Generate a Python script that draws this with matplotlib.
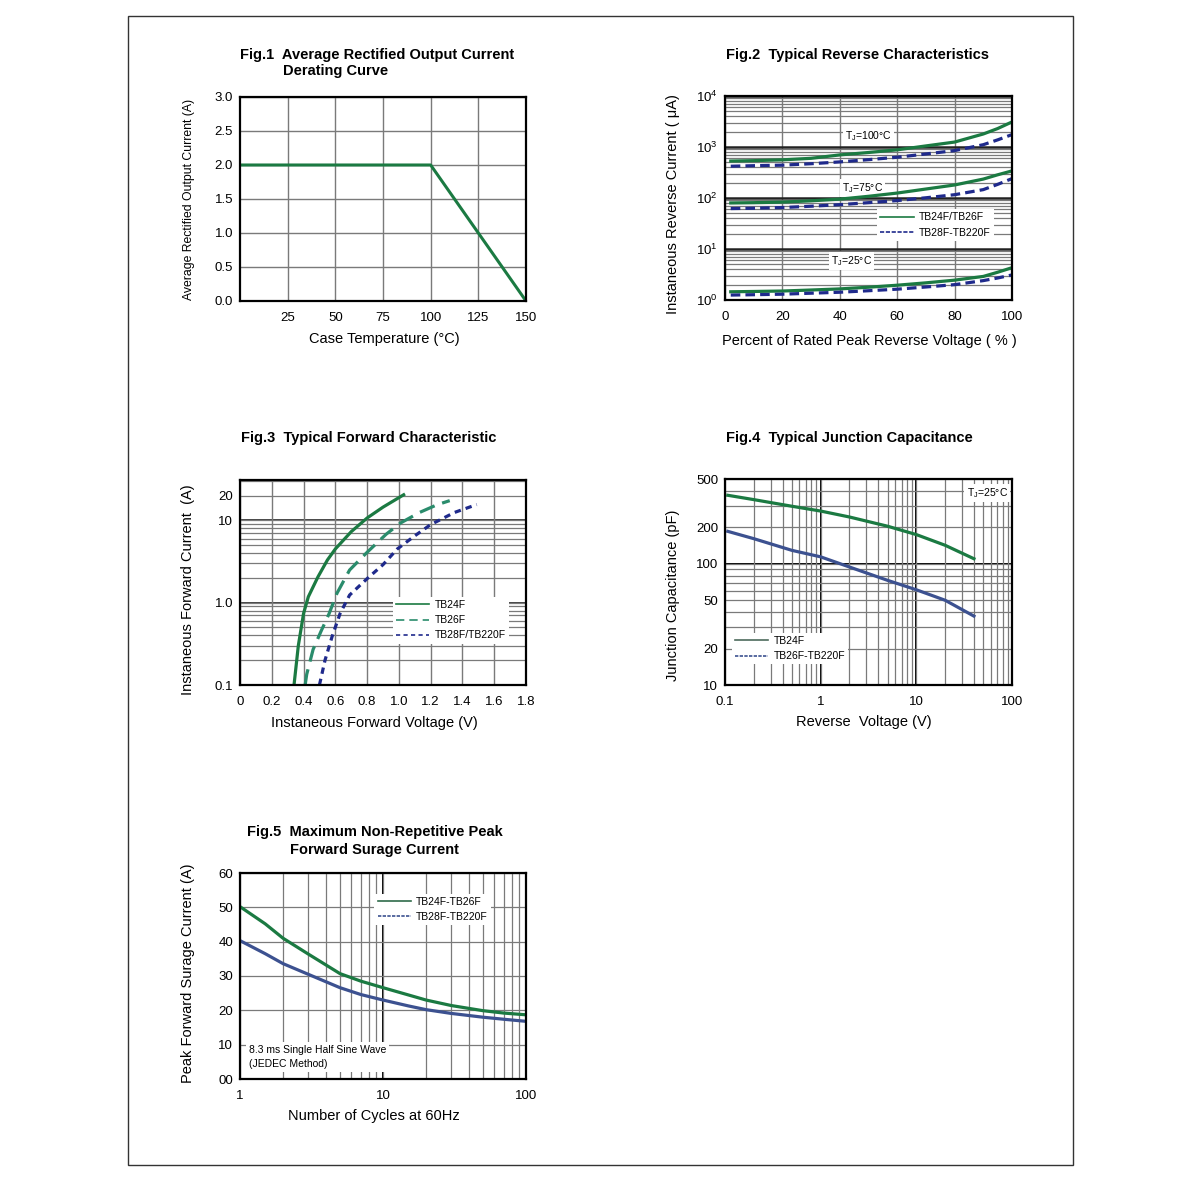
import matplotlib

matplotlib.use("Agg")
import matplotlib.pyplot as plt
from matplotlib.lines import Line2D
from matplotlib.patches import Rectangle

plt.rcParams["font.family"] = ["Liberation Sans", "DejaVu Sans"]
plt.rcParams["mathtext.fontset"] = "custom"
plt.rcParams["mathtext.rm"] = "Liberation Sans"
plt.rcParams["mathtext.it"] = "Liberation Sans"

W, H = 1200, 1192

GREEN = "#1b7a42"
TEAL = "#2a8c6c"
NAVY = "#1f2a8c"
SLATE = "#3c5190"
GRID = "#7a7a7a"

# ---- Fig.1 derating curve
fig1_temp = [0, 100, 150]
fig1_current = [2.0, 2.0, 0.0]

# ---- Fig.2 reverse characteristics (uA vs % of rated voltage)
fig2_pct = [2, 10, 20, 30, 40, 50, 60, 70, 80, 90, 95, 100]
fig2_100_a = [530, 540, 560, 600, 700, 780, 880, 1050, 1250, 1800, 2300, 3100]
fig2_100_b = [420, 430, 440, 470, 510, 565, 630, 730, 850, 1110, 1380, 1750]
fig2_75_a = [80, 81, 83, 88, 95, 108, 125, 150, 180, 235, 285, 340]
fig2_75_b = [62, 63, 65, 69, 74, 81, 89, 101, 116, 146, 185, 240]
fig2_25_a = [1.45, 1.47, 1.5, 1.57, 1.65, 1.78, 1.95, 2.17, 2.45, 2.9, 3.5, 4.3]
fig2_25_b = [1.25, 1.27, 1.3, 1.36, 1.42, 1.52, 1.63, 1.8, 2.0, 2.4, 2.7, 3.1]

# ---- Fig.3 forward characteristic
fig3_v_24 = [0.34, 0.367, 0.40, 0.43, 0.49, 0.55, 0.60, 0.70, 0.80, 0.90, 1.03]
fig3_i_24 = [0.1, 0.30, 0.74, 1.18, 2.05, 3.3, 4.5, 7.3, 10.7, 14.5, 20.5]
fig3_v_26 = [0.41, 0.42, 0.46, 0.51, 0.56, 0.61, 0.69, 0.80, 0.92, 1.01, 1.13, 1.24, 1.32]
fig3_i_26 = [0.1, 0.135, 0.27, 0.45, 0.73, 1.3, 2.5, 4.1, 6.8, 9.3, 12.5, 15.5, 17.4]
fig3_v_28 = [0.50, 0.535, 0.58, 0.63, 0.69, 0.80, 0.90, 0.99, 1.10, 1.20, 1.35, 1.49]
fig3_i_28 = [0.1, 0.20, 0.39, 0.74, 1.24, 1.96, 2.9, 4.5, 6.5, 8.9, 12.5, 15.6]

# ---- Fig.4 junction capacitance
fig4_volts = [0.107, 0.2, 0.5, 1, 2, 5, 10, 20, 40]
fig4_tb24f = [367, 338, 298, 272, 243, 204, 174, 142, 110]
fig4_tb26f = [185, 161, 129, 114, 94, 73, 61, 50, 37]

# ---- Fig.5 surge current
fig5_cycles = [1, 1.5, 2, 3, 5, 7, 10, 15, 20, 30, 50, 70, 100]
fig5_tb24f = [50.2, 45.2, 41, 36.4, 30.7, 28.5, 26.6, 24.5, 23, 21.4, 19.9, 19.2, 18.7]
fig5_tb28f = [40.3, 36.5, 33.6, 30.5, 26.6, 24.6, 23, 21.3, 20.2, 19.1, 18, 17.4, 16.8]


def px(x, y):
    return x / W, 1 - y / H


def make_axes(fig, x0, y0, x1, y1):
    ax = fig.add_axes([x0 / W, 1 - y1 / H, (x1 - x0) / W, (y1 - y0) / H])
    for s in ax.spines.values():
        s.set_linewidth(1.6)
        s.set_color("black")
        s.set_zorder(5)
    ax.tick_params(which="both", length=0, labelsize=9.5, pad=5)
    ax.tick_params(axis="x", pad=8)
    return ax


def decade_minors(lo, hi):
    out = []
    d = lo
    while d < hi:
        out += [d * k for k in range(2, 10) if d * k < hi]
        d *= 10
    return out


def add_legend(ax, handles, labels, **kw):
    leg = ax.legend(handles, labels, fontsize=7.5, frameon=True, framealpha=1, edgecolor="none",
                    fancybox=False, handlelength=3.2, borderpad=0.3, labelspacing=0.5,
                    handletextpad=0.5, borderaxespad=0, **kw)
    leg.set_zorder(3)
    return leg


fig = plt.figure(figsize=(W / 100, H / 100), dpi=100)
fig.add_artist(Rectangle(px(128, 1165), 945 / W, 1149 / H, transform=fig.transFigure,
                         fill=False, ec="#333333", lw=1))

tfont = dict(fontsize=10.5, fontweight="bold", va="center", ha="left")
lfont = dict(fontsize=10.5, va="center", ha="center")

# ---------------- Fig.1
ax = make_axes(fig, 240, 97, 526, 301)
ax.set_xlim(0, 150)
ax.set_ylim(0, 3)
ax.set_xticks([25, 50, 75, 100, 125, 150])
ax.set_yticks([0, 0.5, 1, 1.5, 2, 2.5, 3])
ax.set_yticklabels(["0.0", "0.5", "1.0", "1.5", "2.0", "2.5", "3.0"])
ax.grid(True, color=GRID, lw=1)
ax.plot(fig1_temp, fig1_current, color=GREEN, lw=2.2, zorder=4)
fig.text(*px(240, 55), "Fig.1  Average Rectified Output Current", **tfont)
fig.text(*px(283, 71), "Derating Curve", **tfont)
fig.text(*px(384, 339), "Case Temperature (°C)", **lfont)
fig.text(*px(189, 199), "Average Rectified Output Current (A)", rotation=90, fontsize=8.8,
         va="center", ha="center")

# ---------------- Fig.2
ax = make_axes(fig, 725, 96, 1012, 300)
ax.set_yscale("log")
ax.set_xlim(0, 100)
ax.set_ylim(1, 1e4)
ax.set_xticks([0, 20, 40, 60, 80, 100])
ax.set_yticks([1, 10, 100, 1000, 10000])
ax.set_yticklabels([r"$10^0$", r"$10^1$", r"$10^2$", r"$10^3$", r"$10^4$"])
ax.set_yticks(decade_minors(1, 1e4), minor=True)
ax.yaxis.set_minor_formatter(plt.NullFormatter())
ax.grid(True, which="minor", axis="y", color=GRID, lw=0.9)
ax.grid(True, which="major", axis="y", color="#222222", lw=1.8)
ax.grid(True, which="major", axis="x", color=GRID, lw=1)
for ya, yb in [(fig2_100_a, fig2_100_b), (fig2_75_a, fig2_75_b), (fig2_25_a, fig2_25_b)]:
    ax.plot(fig2_pct, ya, color=GREEN, lw=2.3, zorder=4)
    ax.plot(fig2_pct, yb, color=NAVY, lw=2.3, ls=(0, (3, 1.6)), zorder=4)
box = dict(fc="white", ec="none", pad=1.5)
ax.text(50, 1600, r"T$_J$=100°C", fontsize=7.5, ha="center", va="center", bbox=box, zorder=3)
ax.text(48, 155, r"T$_J$=75°C", fontsize=7.5, ha="center", va="center", bbox=box, zorder=3)
ax.text(44, 5.9, r"T$_J$=25°C", fontsize=7.5, ha="center", va="center", bbox=box, zorder=3)
h = [Line2D([], [], color=GREEN, lw=1.2), Line2D([], [], color=NAVY, lw=1.2, ls=(0, (2.5, 1)))]
add_legend(ax, h, ["TB24F/TB26F", "TB28F-TB220F"], loc="upper left", bbox_to_anchor=(0.53, 0.445))
fig.text(*px(726, 55), "Fig.2  Typical Reverse Characteristics", **tfont)
fig.text(*px(869, 341), "Percent of Rated Peak Reverse Voltage ( % )", **lfont)
fig.text(*px(673, 204), "Instaneous Reverse Current ( μA)", rotation=90, **lfont)

# ---------------- Fig.3
ax = make_axes(fig, 240, 480, 526, 685)
ax.set_yscale("log")
ax.set_xlim(0, 1.8)
ax.set_ylim(0.1, 31)
ax.set_xticks([0, 0.2, 0.4, 0.6, 0.8, 1.0, 1.2, 1.4, 1.6, 1.8])
ax.set_xticklabels(["0", "0.2", "0.4", "0.6", "0.8", "1.0", "1.2", "1.4", "1.6", "1.8"])
ax.set_yticks([0.1, 1, 10, 20])
ax.set_yticklabels(["0.1", "1.0", "10", "20"])
ax.set_yticks(decade_minors(0.1, 31), minor=True)
ax.yaxis.set_minor_formatter(plt.NullFormatter())
ax.grid(True, which="both", axis="y", color=GRID, lw=0.9)
ax.grid(True, which="major", axis="x", color=GRID, lw=1)
for v in [1, 10]:
    ax.axhline(v, color="#333333", lw=1.3, zorder=1)
ax.plot(fig3_v_24, fig3_i_24, color=GREEN, lw=2.3, zorder=4)
ax.plot(fig3_v_26, fig3_i_26, color=TEAL, lw=2.3, ls=(0, (5, 2.5)), zorder=4)
ax.plot(fig3_v_28, fig3_i_28, color=NAVY, lw=2.3, ls=(0, (2, 1.6)), zorder=4)
h = [Line2D([], [], color=GREEN, lw=1.2), Line2D([], [], color=TEAL, lw=1.2, ls=(0, (5, 3))),
     Line2D([], [], color=NAVY, lw=1.2, ls=(0, (2.5, 2)))]
add_legend(ax, h, ["TB24F", "TB26F", "TB28F/TB220F"], loc="upper left", bbox_to_anchor=(0.535, 0.43))
fig.text(*px(241, 438), "Fig.3  Typical Forward Characteristic", **tfont)
fig.text(*px(374, 723), "Instaneous Forward Voltage (V)", **lfont)
fig.text(*px(188, 590), "Instaneous Forward Current  (A)", rotation=90, **lfont)

# ---------------- Fig.4
ax = make_axes(fig, 725, 479, 1012, 685)
ax.set_xscale("log")
ax.set_yscale("log")
ax.set_xlim(0.1, 100)
ax.set_ylim(10, 500)
ax.set_xticks([0.1, 1, 10, 100])
ax.set_xticklabels(["0.1", "1", "10", "100"])
ax.set_yticks([10, 20, 50, 100, 200, 500])
ax.set_yticklabels(["10", "20", "50", "100", "200", "500"])
ax.set_xticks(decade_minors(0.1, 100), minor=True)
ax.set_yticks(decade_minors(10, 500), minor=True)
ax.xaxis.set_minor_formatter(plt.NullFormatter())
ax.yaxis.set_minor_formatter(plt.NullFormatter())
ax.grid(True, which="both", color=GRID, lw=0.9)
for v in [1, 10]:
    ax.axvline(v, color="black", lw=1.4, zorder=1)
ax.axhline(100, color="black", lw=1.4, zorder=1)
ax.plot(fig4_volts, fig4_tb24f, color=GREEN, lw=2.3, zorder=4)
ax.plot(fig4_volts, fig4_tb26f, color=SLATE, lw=2.3, zorder=4)
ax.text(0.985, 0.965, r"T$_J$=25°C", transform=ax.transAxes, fontsize=7.5, ha="right", va="top",
        bbox=dict(fc="white", ec="none", pad=1.5), zorder=3)
h = [Line2D([], [], color="#4d6b5c", lw=1.2), Line2D([], [], color=SLATE, lw=1.2, ls=(0, (2, 0.8)))]
add_legend(ax, h, ["TB24F", "TB26F-TB220F"], loc="lower left", bbox_to_anchor=(0.024, 0.1))
fig.text(*px(726, 438), "Fig.4  Typical Junction Capacitance", **tfont)
fig.text(*px(864, 722), "Reverse  Voltage (V)", **lfont)
fig.text(*px(673, 595), "Junction Capacitance (pF)", rotation=90, **lfont)

# ---------------- Fig.5
ax = make_axes(fig, 240, 873, 526, 1079)
ax.set_xscale("log")
ax.set_xlim(1, 100)
ax.set_ylim(0, 60)
ax.set_xticks([1, 10, 100])
ax.set_xticklabels(["1", "10", "100"])
ax.set_xticks(decade_minors(1, 100), minor=True)
ax.xaxis.set_minor_formatter(plt.NullFormatter())
ax.set_yticks([0, 10, 20, 30, 40, 50, 60])
ax.set_yticklabels(["00", "10", "20", "30", "40", "50", "60"])
ax.grid(True, which="both", color=GRID, lw=0.9)
ax.axvline(10, color="black", lw=1.4, zorder=1)
ax.plot(fig5_cycles, fig5_tb24f, color=GREEN, lw=2.3, zorder=4)
ax.plot(fig5_cycles, fig5_tb28f, color=SLATE, lw=2.3, zorder=4)
ax.text(0.03, 0.05, "8.3 ms Single Half Sine Wave\n(JEDEC Method)", transform=ax.transAxes,
        fontsize=7.5, ha="left", va="bottom", linespacing=1.5,
        bbox=dict(fc="white", ec="none", pad=2), zorder=3)
h = [Line2D([], [], color="#2f6b4a", lw=1.2), Line2D([], [], color=SLATE, lw=1.2, ls=(0, (2, 0.8)))]
add_legend(ax, h, ["TB24F-TB26F", "TB28F-TB220F"], loc="upper left", bbox_to_anchor=(0.47, 0.9))
fig.text(*px(247, 832), "Fig.5  Maximum Non-Repetitive Peak", **tfont)
fig.text(*px(290, 850), "Forward Surage Current", **tfont)
fig.text(*px(374, 1116), "Number of Cycles at 60Hz", **lfont)
fig.text(*px(188, 973), "Peak Forward Surage Current (A)", rotation=90, **lfont)

fig.savefig("out.png", dpi=100)
